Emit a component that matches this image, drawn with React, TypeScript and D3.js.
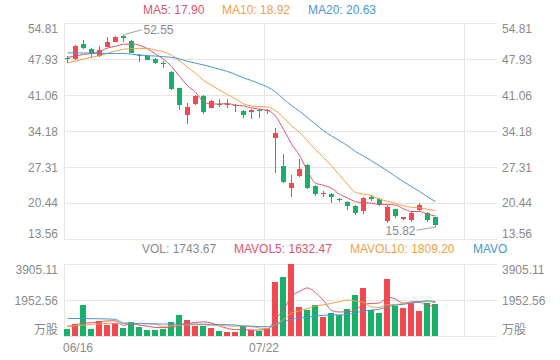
import React from "react";
import * as d3 from "d3";

// daily candles (06/16 onwards)
const opens = [48.1, 47.88, 50.8, 49.79, 48.5, 50.28, 51.24, 52.33, 51.43, 48.7, 48.56, 47.99, 47.2, 45.51, 42.34, 37.24, 39.28, 40.87, 38.63, 39.4, 39.2, 39.0, 38.0, 37.9, 38.1, 38.0, 32.79, 27.56, 23.24, 25.65, 27.69, 23.68, 22.2, 22.15, 21.2, 20.68, 19.92, 18.97, 21.64, 21.2, 17.05, 19.23, 17.45, 17.18, 19.1, 18.58, 17.7];
const closes = [47.95, 50.42, 49.98, 48.89, 49.65, 51.24, 52.08, 51.89, 49.14, 48.5, 47.8, 47.11, 47.0, 42.15, 39.15, 38.82, 40.87, 37.87, 39.98, 39.2, 39.3, 39.15, 37.24, 38.1, 38.0, 38.1, 33.74, 24.5, 24.31, 26.87, 23.36, 22.15, 22.4, 21.5, 21.1, 19.86, 18.58, 21.33, 21.14, 20.05, 19.73, 17.95, 17.75, 18.6, 20.05, 17.18, 16.15];
const highs = [48.6, 50.6, 51.56, 50.0, 50.47, 52.2, 52.3, 52.55, 51.6, 48.83, 48.7, 48.1, 47.55, 45.6, 42.4, 39.47, 41.0, 41.06, 40.1, 40.3, 40.3, 39.3, 38.2, 38.3, 38.3, 38.3, 34.7, 29.7, 25.8, 28.8, 27.8, 23.8, 22.7, 22.3, 21.45, 20.9, 20.0, 21.6, 21.9, 21.3, 20.05, 19.3, 17.85, 18.9, 20.5, 18.8, 17.8];
const lows = [47.1, 47.7, 49.9, 48.07, 48.4, 50.17, 51.2, 51.1, 49.0, 47.3, 47.7, 47.0, 46.15, 42.0, 38.2, 35.46, 39.1, 37.37, 38.5, 38.8, 38.6, 37.9, 36.7, 36.4, 36.7, 37.4, 26.1, 24.3, 21.6, 25.45, 23.2, 21.77, 21.5, 20.5, 20.7, 19.1, 18.14, 18.3, 20.8, 19.9, 16.55, 17.5, 17.2, 16.9, 18.9, 16.9, 15.82];
const volumes = [380, 651, 1663, 362, 832, 579, 687, 416, 759, 488, 325, 325, 380, 759, 1121, 850, 560, 542, 452, 289, 217, 217, 542, 345, 289, 450, 2947, 3182, 3905.11, 1590, 1410, 1681, 1048, 1229, 1139, 1464, 2224, 2586, 1410, 1265, 3074, 1645, 1501, 1772, 1356, 1808, 1743.67];

// moving averages before the window is full (history is off-screen)
const ma5Head = [48.25, 48.5, 48.8, 49.0];
const ma10Head = [47.2, 47.55, 47.93, 48.26, 48.57, 49.02, 49.46, 49.8, 49.9];
const ma20Head = [49.1, 49.1, 49.08, 49.05, 49.0, 49.0, 49.0, 49.0, 48.85, 48.7, 48.57, 48.5, 48.38, 48.25, 47.95, 47.5, 47.15, 46.8, 46.4];
const mavol5Head = [510, 600, 700, 720];
const mavol10Head = [540, 560, 595, 630, 660, 680, 690, 695, 690];
const mavol20Head = [950, 950, 945, 940, 935, 925, 900, 700, 680, 670, 660, 655, 650, 650, 650, 650, 645, 640, 630];

const priceTicks = [54.81, 47.93, 41.06, 34.18, 27.31, 20.44, 13.56];
const volTicks = [3905.11, 1952.56];
const volUnit = "万股";
const dateLabels = ["06/16", "07/22"];

const maLegend = ["MA5: 17.90", "MA10: 18.92", "MA20: 20.63"];
const volLegend = ["VOL: 1743.67", "MAVOL5: 1632.47", "MAVOL10: 1809.20", "MAVOL20: 1851.25"];
const maxLabel = "52.55";
const minLabel = "15.82";

const RED = "#f2484f";
const GREEN = "#16b066";
const C5 = "#dc5570";
const C10 = "#f4a145";
const C20 = "#4896d6";
const TXT = "#8a8a8a";
const GRID = "#e6e6e6";
const FONT = "'Liberation Sans', Arial, 'Noto Sans CJK SC', sans-serif";

const movingAvg = (vals: number[], period: number, head: number[]) =>
  vals.map((_, i) => (i < period - 1 ? head[i] : (d3.mean(vals.slice(i - period + 1, i + 1)) as number)));

export default function App() {
  const n = closes.length;
  const left = 64, right = 497;
  const x = d3.scaleBand<number>().domain(d3.range(n)).range([63.5, 439.5]);
  const cx = (i: number) => (x(i) as number) + x.bandwidth() / 2;
  const yP = d3.scaleLinear().domain([priceTicks[priceTicks.length - 1], priceTicks[0]]).range([239, 23]);
  const yV = d3.scaleLinear().domain([0, volTicks[0]]).range([336, 264]);
  const gridX = d3.scaleLinear().domain([0, 2]).range([64, 464]);

  const priceLine = d3.line<number>().x((_, i) => cx(i)).y(d => yP(d)).curve(d3.curveMonotoneX);
  const volLine = d3.line<number>().x((_, i) => cx(i)).y(d => yV(d)).curve(d3.curveMonotoneX);

  const mas = [
    { v: movingAvg(closes, 5, ma5Head), c: C5 },
    { v: movingAvg(closes, 10, ma10Head), c: C10 },
    { v: movingAvg(closes, 20, ma20Head), c: C20 },
  ];
  const mavols = [
    { v: movingAvg(volumes, 5, mavol5Head), c: C5 },
    { v: movingAvg(volumes, 10, mavol10Head), c: C10 },
    { v: movingAvg(volumes, 20, mavol20Head), c: C20 },
  ];

  const hi = d3.maxIndex(highs);
  const lo = d3.minIndex(lows);

  const tickBase = (k: number, len: number, y: number) =>
    k === 0 ? y + 10 : k === len - 1 ? y - 1 : y + 4.5;

  const maX = [143, 222, 308];
  const volX = [142, 234, 350, 473];
  const legendColors = [TXT, C5, C10, C20];

  return (
    <svg width={560} height={360} style={{ position: "absolute", left: 0, top: 0, background: "#fff" }}
      fontFamily={FONT} fontSize={12}>
      <defs>
        <clipPath id="legclip"><rect x={0} y={240} width={508} height={20} /></clipPath>
      </defs>

      {/* grid */}
      <g shapeRendering="crispEdges" stroke={GRID} strokeWidth={1}>
        {priceTicks.map(t => <line key={"p" + t} x1={left} x2={right} y1={Math.round(yP(t)) + 0.5} y2={Math.round(yP(t)) + 0.5} />)}
        {[0, ...volTicks].map(t => <line key={"v" + t} x1={left} x2={right} y1={Math.round(yV(t)) + 0.5} y2={Math.round(yV(t)) + 0.5} />)}
        {d3.range(3).map(k => (
          <g key={k}>
            <line x1={gridX(k) + 0.5} x2={gridX(k) + 0.5} y1={yP(priceTicks[0])} y2={yP(priceTicks[6])} />
            <line x1={gridX(k) + 0.5} x2={gridX(k) + 0.5} y1={yV(volTicks[0])} y2={yV(0)} />
          </g>
        ))}
      </g>

      {/* axis labels */}
      <g fill={TXT}>
        {priceTicks.map((t, k) => (
          <g key={t}>
            <text x={58} y={tickBase(k, priceTicks.length, yP(t))} textAnchor="end">{t.toFixed(2)}</text>
            <text x={502} y={tickBase(k, priceTicks.length, yP(t))}>{t.toFixed(2)}</text>
          </g>
        ))}
        {volTicks.map((t, k) => (
          <g key={t}>
            <text x={58} y={k === 0 ? yV(t) + 10 : yV(t) + 5} textAnchor="end">{t.toFixed(2)}</text>
            <text x={502} y={k === 0 ? yV(t) + 10 : yV(t) + 5}>{t.toFixed(2)}</text>
          </g>
        ))}
        <text x={58} y={yV(0) - 2} textAnchor="end" fontFamily="'Noto Sans CJK SC', sans-serif">{volUnit}</text>
        <text x={502} y={yV(0) - 2} fontFamily="'Noto Sans CJK SC', sans-serif">{volUnit}</text>
        <text x={gridX(0) - 1} y={352}>{dateLabels[0]}</text>
        <text x={gridX(1)} y={352} textAnchor="middle">{dateLabels[1]}</text>
      </g>

      {/* legends */}
      {maLegend.map((s, k) => <text key={s} x={maX[k]} y={14} fill={mas[k].c}>{s}</text>)}
      <g clipPath="url(#legclip)">
        {volLegend.map((s, k) => <text key={s} x={volX[k]} y={253} fill={legendColors[k]}>{s}</text>)}
      </g>

      {/* candles */}
      <g shapeRendering="crispEdges">
        {closes.map((c, i) => {
          const o = opens[i];
          const col = c >= o ? RED : GREEN;
          const top = yP(Math.max(o, c));
          const h = Math.max(1, yP(Math.min(o, c)) - top);
          return (
            <g key={i} fill={col}>
              <rect x={cx(i) - 0.5} y={yP(highs[i])} width={1} height={yP(lows[i]) - yP(highs[i])} />
              <rect x={cx(i) - 2.5} y={top} width={5} height={h} />
            </g>
          );
        })}
      </g>
      {mas.map(m => <path key={m.c} d={priceLine(m.v) || ""} fill="none" stroke={m.c} strokeWidth={1} />)}

      {/* max / min marks */}
      <g stroke={TXT} strokeWidth={0.8} fill="none">
        <line x1={cx(hi)} y1={yP(highs[hi])} x2={cx(hi) + 18} y2={yP(highs[hi]) - 5} />
        <line x1={cx(lo)} y1={yP(lows[lo])} x2={cx(lo) - 19} y2={yP(lows[lo]) + 3} />
      </g>
      <text x={cx(hi) + 20} y={yP(highs[hi]) - 1} fill={TXT}>{maxLabel}</text>
      <text x={cx(lo) - 20} y={yP(lows[lo]) + 8} fill={TXT} textAnchor="end">{minLabel}</text>

      {/* volume */}
      <g shapeRendering="crispEdges">
        {volumes.map((v, i) => (
          <rect key={i} x={Math.floor(cx(i) - 3)} y={yV(v)} width={6} height={yV(0) - yV(v)}
            fill={closes[i] >= opens[i] ? RED : GREEN} />
        ))}
      </g>
      {mavols.map(m => <path key={m.c} d={volLine(m.v) || ""} fill="none" stroke={m.c} strokeWidth={1} />)}
    </svg>
  );
}
